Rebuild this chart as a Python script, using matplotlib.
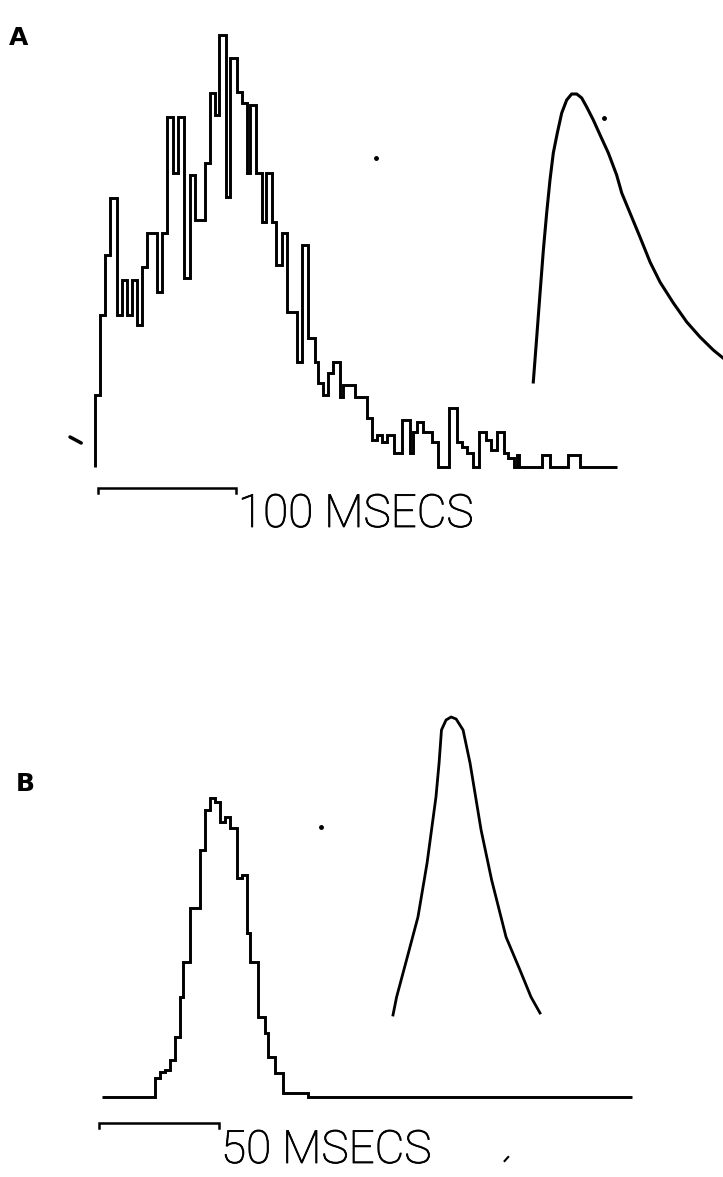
import matplotlib.pyplot as plt
import matplotlib.patheffects as pe

# ---- panel A: interval histogram (ms, counts) ----
a_edges = [0, 3.6, 7.2, 10.9, 15.9, 19.6, 23.2, 26.8, 30.4, 34.1, 37.7, 44.9, 48.6,
           52.2, 56.5, 60.1, 64.5, 68.8, 72.5, 79.7, 83.3, 87.0, 89.9, 94.9, 97.8,
           102.9, 106.5, 110.1, 112.3, 116.7, 121.0, 123.9, 128.3, 131.2, 135.5,
           139.1, 146.4, 150.0, 154.3, 159.4, 161.6, 165.2, 168.8, 172.5, 177.5,
           179.7, 188.4, 197.1, 200.7, 204.3, 208.0, 211.6, 216.7, 222.5, 228.3,
           230.4, 233.3, 237.7, 244.2, 248.6, 256.5, 262.3, 265.9, 269.6, 273.9,
           278.3, 283.3, 286.9, 291.3, 296.4, 299.3, 303.6, 305.8, 307.2, 323.9,
           329.7, 342.8, 351.4, 378.3]
a_counts = [7.2, 15.2, 21.2, 26.9, 15.2, 18.7, 15.2, 18.7, 14.2, 20.0, 23.4, 17.5,
            23.4, 35.0, 29.4, 35.0, 18.9, 29.2, 24.7, 30.4, 37.4, 35.2, 43.2, 27.0,
            40.9, 37.5, 36.4, 29.4, 36.2, 29.4, 24.5, 29.4, 24.5, 20.2, 23.4, 15.5,
            10.5, 22.2, 12.9, 10.5, 8.4, 7.2, 9.4, 10.5, 7.0, 8.2, 7.0, 4.9, 2.7,
            3.2, 2.5, 3.2, 1.4, 4.7, 1.4, 3.5, 4.5, 3.5, 2.5, 0, 5.9, 2.5, 2.0, 1.4,
            0, 3.5, 2.7, 1.7, 3.5, 1.4, 0.9, 0, 1.2, 0, 1.2, 0, 1.2, 0]

# fitted curve A
a_curve_t = [317.6, 320.1, 322.5, 324.9, 327.3, 329.7, 332.1, 335.0, 338.2, 341.8,
             345.4, 349.1, 352.7, 356.3, 361.1, 366.0, 372.0, 378.0, 381.7, 387.7,
             394.9, 402.2, 409.4, 419.1, 428.8, 438.4, 448.0, 455.1]
a_curve_c = [8.5, 13.0, 17.4, 21.7, 25.4, 28.7, 31.4, 33.4, 35.4, 36.7, 37.3, 37.3,
             36.9, 36.0, 34.7, 33.2, 31.4, 29.2, 27.4, 25.4, 23.0, 20.5, 18.5, 16.4,
             14.5, 13.0, 11.7, 10.9]

# ---- panel B ----
b_edges = [1.3, 23.3, 25.4, 27.5, 29.6, 31.7, 33.8, 35.0, 37.9, 42.1, 44.2, 46.3,
           48.3, 50.4, 52.5, 54.6, 57.5, 59.6, 61.7, 62.9, 66.3, 69.2, 70.4, 73.3,
           76.7, 87.1, 222.1]
b_counts = [0, 1.9, 2.5, 2.7, 3.7, 6.0, 10.0, 13.5, 18.9, 24.7, 28.7, 29.9, 29.5,
            27.5, 28.0, 26.9, 21.9, 22.2, 16.4, 13.5, 8.0, 6.4, 4.0, 2.4, 0.4, 0]

b_curve_t = [122.5, 124.0, 127.8, 132.9, 136.7, 140.4, 141.7, 142.7, 144.6, 146.7,
             148.8, 151.7, 154.6, 159.2, 163.6, 169.6, 175.4, 180.0, 183.75]
b_curve_c = [8.2, 10.0, 13.4, 18.0, 23.4, 30.0, 33.4, 36.7, 37.7, 38.0, 37.8, 36.7,
             33.4, 26.7, 21.7, 16.0, 12.7, 10.0, 8.4]

scale_a_ms = 100
scale_b_ms = 50

W, H = 723, 1177


def panel_axes(fig, x0_px, px_per_ms, y0_px, px_per_count):
    # full-figure axes, limits chosen so that data lands on the right pixels
    ax = fig.add_axes([0, 0, 1, 1])
    ax.set_xlim(-x0_px / px_per_ms, (W - x0_px) / px_per_ms)
    ax.set_ylim((y0_px - H) / px_per_count, y0_px / px_per_count)
    ax.set_axis_off()
    return ax


def scale_bar(ax, t0, length, y, tick):
    ax.plot([t0, t0, t0 + length, t0 + length], [y - tick, y, y, y - tick],
            color='black', lw=1.8, solid_joinstyle='miter', clip_on=False)


fig = plt.figure(figsize=(W / 100, H / 100), dpi=100)

LW = 2.1

# ---- A ----
axA = panel_axes(fig, 95, 1.38, 467, 10)
axA.stairs(a_counts, a_edges, baseline=0, color='black', lw=LW)
axA.plot(a_curve_t, a_curve_c, color='black', lw=2.2, clip_on=False)
axA.plot([-18.1, -10.0], [3.0, 2.4], color='black', lw=2.5, solid_capstyle='round')
axA.plot([203.6, 369.1], [30.9, 34.9], 'o', color='black', ms=2.5)
scale_bar(axA, 2.2, scale_a_ms, -2.1, 0.5)

# ---- B ----
axB = panel_axes(fig, 99, 2.4, 1097, 10)
axB.stairs(b_counts, b_edges, baseline=None, color='black', lw=LW)
axB.plot(b_curve_t, b_curve_c, color='black', lw=2.0)
axB.plot([92.5], [27.0], 'o', color='black', ms=2.5)
axB.plot([169.0, 170.5], [-6.4, -6.0], color='black', lw=1.5)
scale_bar(axB, 0, scale_b_ms, -2.6, 0.5)

txt = dict(family=['Roboto', 'DejaVu Sans'], fontweight='light', fontsize=33,
           va='baseline', ha='left',
           path_effects=[pe.withStroke(linewidth=0.6, foreground='black')])
fig.text(238 / W, 1 - 527 / H, '100 MSECS', **txt)
fig.text(221 / W, 1 - 1163 / H, '50 MSECS', **txt)

lab = dict(family=['DejaVu Sans'], fontweight='bold', fontsize=18,
           va='top', ha='left')
fig.text(9 / W, 1 - 26 / H, 'A', **lab)
fig.text(16 / W, 1 - 772 / H, 'B', **lab)

plt.savefig('out.png', dpi=100)
